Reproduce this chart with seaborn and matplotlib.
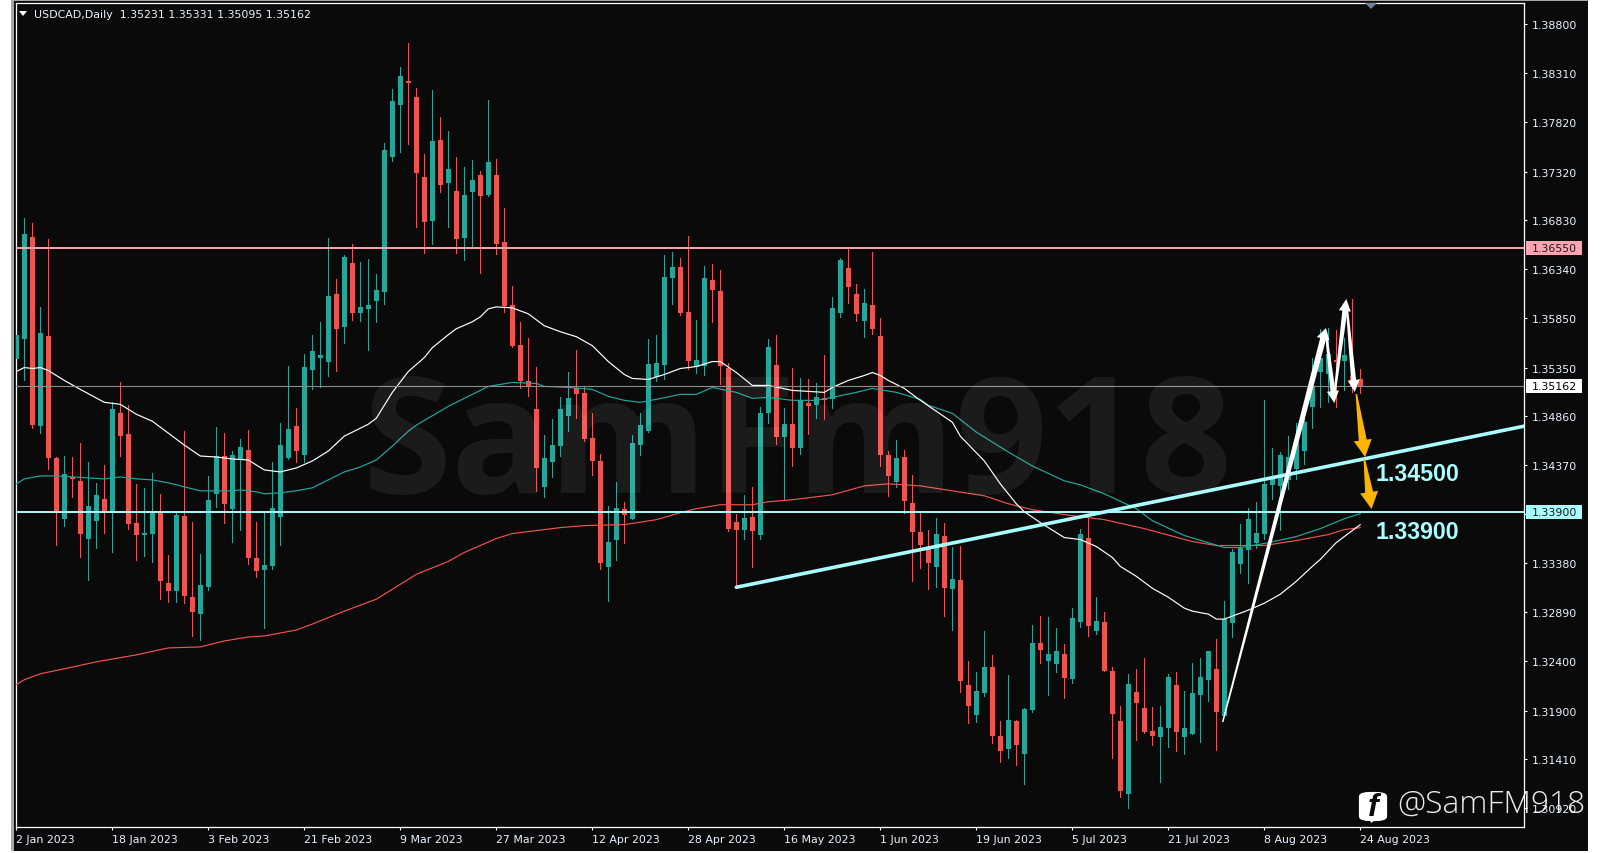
import numpy as np
import pandas as pd
import matplotlib
matplotlib.use("Agg")
import matplotlib.pyplot as plt
from matplotlib.patches import Rectangle, Polygon, FancyBboxPatch
import seaborn as sns

# USDCAD daily candles
opens = [1.3544,1.3564,1.3666,1.3476,1.3567,1.3444,1.3383,1.3425,1.3421,1.3363,1.3381,1.3403,1.3389,1.3489,1.3468,1.3379,1.3367,1.3368,1.3389,1.3318,
1.3310,1.3386,1.3304,1.3287,1.3314,1.3408,1.3446,1.3393,1.3443,1.3452,1.3343,1.3331,1.3335,1.3385,1.3444,1.3476,1.3447,1.3533,1.3545,1.3541,
1.3609,1.3576,1.3640,1.3590,1.3594,1.3602,1.3611,1.3747,1.3799,1.3823,1.3807,1.3727,1.3682,1.3764,1.3721,1.3713,1.3665,1.3712,1.3729,1.3709,
1.3729,1.3661,1.3598,1.3558,1.3521,1.3493,1.3415,1.3440,1.3456,1.3486,1.3514,1.3509,1.3464,1.3441,1.3334,1.3362,1.3393,1.3383,1.3457,1.3471,
1.3525,1.3538,1.3625,1.3636,1.3591,1.3536,1.3537,1.3623,1.3612,1.3535,1.3380,1.3372,1.3385,1.3367,1.3489,1.3538,1.3465,1.3478,1.3454,1.3499,
1.3497,1.3504,1.3503,1.3590,1.3635,1.3609,1.3582,1.3598,1.3567,1.3447,1.3420,1.3445,1.3399,1.3370,1.3352,1.3334,1.3366,1.3312,1.3321,1.3216,
1.3186,1.3208,1.3234,1.3164,1.3151,1.3180,1.3146,1.3191,1.3258,1.3240,1.3237,1.3247,1.3222,1.3279,1.3364,1.3270,1.3279,1.3230,1.3180,1.3106,
1.3209,1.3193,1.3169,1.3163,1.3172,1.3216,1.3163,1.3166,1.3206,1.3221,1.3232,1.3185,1.3278,1.3337,1.3351,1.3359,1.3368,1.3417,1.3416,1.3422,
1.3433,1.3451,1.3495,1.3530,1.3528,1.3543,1.3542,1.3526,1.35231]
closes = [1.3568,1.3669,1.3477,1.3570,1.3444,1.3391,1.3428,1.3423,1.3368,1.3396,1.3407,1.3391,1.3493,1.3466,1.3378,1.3367,1.3368,1.3389,1.3320,1.3310,
1.3387,1.3305,1.3289,1.3316,1.3402,1.3446,1.3398,1.3447,1.3455,1.3343,1.3330,1.3336,1.3394,1.3457,1.3473,1.3451,1.3536,1.3552,1.3548,1.3607,
1.3574,1.3646,1.3590,1.3596,1.3598,1.3613,1.3754,1.3803,1.3828,1.3821,1.3731,1.3681,1.3763,1.3719,1.3735,1.3664,1.3709,1.3724,1.3708,1.3742,
1.3659,1.3597,1.3557,1.3521,1.3515,1.3434,1.3444,1.3457,1.3493,1.3504,1.3508,1.3463,1.3441,1.3338,1.3360,1.3394,1.3387,1.3459,1.3477,1.3539,
1.3540,1.3626,1.3636,1.3590,1.3542,1.3543,1.3625,1.3613,1.3537,1.3373,1.3372,1.3384,1.3371,1.3489,1.3556,1.3465,1.3478,1.3454,1.3502,1.3496,
1.3505,1.3502,1.3595,1.3643,1.3616,1.3589,1.3600,1.3574,1.3447,1.3426,1.3444,1.3401,1.3370,1.3357,1.3338,1.3368,1.3313,1.3322,1.3220,1.3195,
1.3210,1.3234,1.3164,1.3149,1.3181,1.3155,1.3192,1.3258,1.3251,1.3247,1.3250,1.3223,1.3283,1.3368,1.3275,1.3280,1.3230,1.3187,1.3109,1.3217,
1.3198,1.3168,1.3164,1.3173,1.3224,1.3168,1.3172,1.3208,1.3224,1.3250,1.3189,1.3282,1.3349,1.3353,1.3383,1.3369,1.3418,1.3423,1.3447,1.3445,
1.3460,1.3480,1.3516,1.3545,1.3549,1.3541,1.3548,1.3516,1.35162]
highs = [1.3584,1.3685,1.3680,1.3596,1.3664,1.3445,1.3446,1.3445,1.3459,1.3440,1.3419,1.3437,1.3500,1.3520,1.3497,1.3418,1.3414,1.3429,1.3408,1.3346,
1.3389,1.3471,1.3380,1.3347,1.3426,1.3475,1.3469,1.3451,1.3463,1.3472,1.3380,1.3390,1.3440,1.3479,1.3537,1.3494,1.3549,1.3568,1.3581,1.3665,
1.3624,1.3648,1.3659,1.3641,1.3644,1.3629,1.3761,1.3815,1.3837,1.3861,1.3816,1.3750,1.3814,1.3787,1.3773,1.3747,1.3737,1.3744,1.3733,1.3804,
1.3745,1.3695,1.3617,1.3581,1.3565,1.3536,1.3467,1.3483,1.3505,1.3530,1.3553,1.3515,1.3489,1.3448,1.3396,1.3420,1.3400,1.3467,1.3489,1.3564,
1.3568,1.3648,1.3651,1.3645,1.3667,1.3583,1.3637,1.3639,1.3633,1.3540,1.3388,1.3407,1.3415,1.3495,1.3564,1.3568,1.3494,1.3535,1.3524,1.3523,
1.3519,1.3548,1.3606,1.3645,1.3654,1.3619,1.3614,1.3651,1.3585,1.3451,1.3462,1.3452,1.3427,1.3389,1.3372,1.3384,1.3379,1.3354,1.3355,1.3240,
1.3229,1.3270,1.3246,1.3180,1.3226,1.3181,1.3193,1.3276,1.3285,1.3284,1.3273,1.3257,1.3293,1.3373,1.3385,1.3304,1.3289,1.3234,1.3195,1.3227,
1.3232,1.3243,1.3194,1.3195,1.3227,1.3229,1.3210,1.3238,1.3243,1.3250,1.3262,1.3300,1.3352,1.3378,1.3394,1.3400,1.3502,1.3454,1.3450,1.3466,
1.3479,1.3493,1.3545,1.3574,1.3575,1.3573,1.3565,1.3604,1.35331]
lows = [1.3524,1.3522,1.3474,1.3469,1.3433,1.3357,1.3376,1.3405,1.3344,1.3321,1.3353,1.3369,1.3349,1.3446,1.3373,1.3341,1.3345,1.3339,1.3302,1.3299,
1.3299,1.3298,1.3265,1.3261,1.3311,1.3395,1.3379,1.3360,1.3372,1.3337,1.3324,1.3273,1.3332,1.3357,1.3443,1.3440,1.3440,1.3513,1.3515,1.3526,
1.3532,1.3560,1.3583,1.3582,1.3553,1.3581,1.3599,1.3743,1.3752,1.3760,1.3676,1.3650,1.3659,1.3712,1.3676,1.3650,1.3643,1.3656,1.3630,1.3707,
1.3649,1.3591,1.3556,1.3514,1.3506,1.3411,1.3405,1.3425,1.3446,1.3471,1.3484,1.3461,1.3427,1.3332,1.3300,1.3341,1.3359,1.3383,1.3447,1.3470,
1.3521,1.3523,1.3599,1.3588,1.3534,1.3529,1.3527,1.3581,1.3518,1.3371,1.3314,1.3363,1.3334,1.3363,1.3479,1.3458,1.3403,1.3436,1.3448,1.3468,
1.3484,1.3483,1.3494,1.3586,1.3600,1.3582,1.3566,1.3569,1.3436,1.3406,1.3415,1.3389,1.3320,1.3333,1.3312,1.3314,1.3285,1.3271,1.3209,1.3177,
1.3179,1.3205,1.3157,1.3138,1.3142,1.3135,1.3116,1.3189,1.3238,1.3206,1.3229,1.3203,1.3218,1.3274,1.3265,1.3267,1.3230,1.3142,1.3103,1.3092,
1.3160,1.3167,1.3155,1.3118,1.3153,1.3149,1.3146,1.3166,1.3158,1.3200,1.3150,1.3185,1.3264,1.3328,1.3318,1.3353,1.3363,1.3403,1.3372,1.3413,
1.3423,1.3438,1.3474,1.3495,1.3500,1.3495,1.3512,1.3510,1.35095]

# moving averages, read at these bars
white_bars = [0,1,2,3,4,6,8,11,13,15,17,19,21,23,25,27,29,31,33,35,37,39,41,44,45,47,49,51,52,54,55,57,58,59,60,62,64,66,68,70,72,74,76,77,79,81,83,85,87,88,90,92,94,97,99,101,102,104,106,107,108,109,111,113,115,117,118,121,123,125,126,128,131,133,135,137,138,140,142,144,146,147,149,150,151,152,154,156,158,160,162,163,165,168]
white_ma = [1.3531,1.3535,1.3534,1.3535,1.3532,1.3522,1.3513,1.3500,1.3498,1.3488,1.3481,1.3469,1.3457,1.3446,1.3445,1.3443,1.3442,1.3432,1.3430,1.3434,1.3441,1.3451,1.3466,1.3478,1.3484,1.3510,1.3531,1.3545,1.3555,1.3568,1.3574,1.3581,1.3586,1.3594,1.3596,1.3595,1.3589,1.3577,1.3571,1.3566,1.3557,1.3541,1.3528,1.3524,1.3523,1.3528,1.3534,1.3536,1.3541,1.3541,1.3530,1.3517,1.3517,1.3512,1.3511,1.3510,1.3515,1.3522,1.3527,1.3530,1.3527,1.3522,1.3514,1.3502,1.3491,1.3480,1.3466,1.3441,1.3418,1.3398,1.3390,1.3379,1.3364,1.3362,1.3355,1.3344,1.3335,1.3325,1.3313,1.3304,1.3293,1.3290,1.3287,1.3282,1.3282,1.3285,1.3291,1.3298,1.3307,1.3320,1.3335,1.3342,1.3359,1.3377]
teal_bars = [0,1,3,5,7,9,11,13,15,17,19,21,23,25,27,28,30,31,33,35,37,39,41,43,45,47,49,50,54,56,59,62,65,66,69,72,74,76,78,80,83,85,87,90,92,94,97,100,102,105,107,110,113,114,117,120,124,127,131,133,136,140,142,146,151,153,156,160,163,166,168]
teal_ma = [1.3418,1.3423,1.3426,1.3426,1.3425,1.3424,1.3423,1.3425,1.3423,1.3422,1.3419,1.3415,1.3411,1.3411,1.3411,1.3412,1.3410,1.3408,1.3409,1.3411,1.3414,1.3422,1.3430,1.3435,1.3442,1.3456,1.3471,1.3477,1.3496,1.3504,1.3516,1.3520,1.3519,1.3516,1.3515,1.3513,1.3506,1.3502,1.3500,1.3503,1.3508,1.3508,1.3515,1.3510,1.3504,1.3505,1.3502,1.3502,1.3505,1.3510,1.3514,1.3510,1.3503,1.3497,1.3489,1.3470,1.3450,1.3436,1.3421,1.3417,1.3408,1.3393,1.3381,1.3366,1.3354,1.3354,1.3358,1.3365,1.3373,1.3383,1.3388]
red_bars = [0,1,3,6,10,15,19,23,26,29,31,35,37,41,45,48,50,54,56,60,62,65,68,71,76,80,83,85,88,92,94,97,100,102,106,109,113,117,121,124,127,132,136,141,147,150,156,160,164,166,168]
red_ma = [1.3216,1.3221,1.3227,1.3232,1.3239,1.3246,1.3253,1.3254,1.3260,1.3264,1.3265,1.3271,1.3277,1.3290,1.3302,1.3317,1.3327,1.3340,1.3349,1.3363,1.3368,1.3371,1.3374,1.3376,1.3377,1.3382,1.3389,1.3393,1.3397,1.3397,1.3400,1.3402,1.3405,1.3407,1.3416,1.3418,1.3416,1.3411,1.3406,1.3398,1.3392,1.3386,1.3382,1.3373,1.3360,1.3356,1.3356,1.3361,1.3367,1.3372,1.3374]

# axis labels
y_ticks = [1.388,1.3831,1.3782,1.3732,1.3683,1.3634,1.3585,1.3535,1.3486,1.3437,1.3388,1.3338,1.3289,1.324,1.319,1.3141,1.3092]
date_labels = ['2 Jan 2023','18 Jan 2023','3 Feb 2023','21 Feb 2023','9 Mar 2023','27 Mar 2023','12 Apr 2023','28 Apr 2023','16 May 2023','1 Jun 2023','19 Jun 2023','5 Jul 2023','21 Jul 2023','8 Aug 2023','24 Aug 2023']
date_bars = list(range(0, 169, 12))

# levels and drawn objects
resistance = 1.3655
support = 1.3390
last_price = 1.35162
trend_bars = [90, 188.46]
trend_prices = [1.33140, 1.34760]
white_arrows = [((150.8,1.31785),(163.7,1.35747)), ((163.7,1.35707),(164.75,1.34993)),
                ((164.7,1.35033),(166.25,1.36039)), ((166.3,1.35969),(167.3,1.35104))]
orange_arrows = [((167.5,1.35083),(168.6,1.3445)), ((168.5,1.3443),(169.4,1.33927))]

W, H = 1601, 854
BG = '#0a0a0a'
UP = '#26a69a'
DOWN = '#ef5350'
CYAN = '#a9ffff'
PINK = '#ffa4b0'
TXT = '#e8f2ff'

sns.set_theme(style='dark', rc={'axes.facecolor': BG, 'figure.facecolor': 'white', 'axes.grid': False})
plt.rcParams['font.family'] = ['DejaVu Sans']

fig = plt.figure(figsize=(W/100, H/100), dpi=100)

def px_rect(x0, y0, x1, y1, color):
    fig.add_artist(Rectangle((x0/W, 1-y1/H), (x1-x0)/W, (y1-y0)/H, transform=fig.transFigure,
                             facecolor=color, edgecolor='none', zorder=-5))

px_rect(11, 0, 1588, 852, '#a8a8a8')
px_rect(14, 2, 1588, 852, BG)

ax = fig.add_axes([16/W, 1-828/H, 1508/W, 824/H])
ax.set_xlim(-0.04, 188.46)
ax.set_ylim(1.30729, 1.39016)

df = pd.DataFrame({'o': opens, 'c': closes, 'h': highs, 'l': lows})
df['bar'] = df.index
df['col'] = np.where(df.c >= df.o, UP, DOWN)

# candles
ax.vlines(df.bar, df.l, df.h, colors=df.col, lw=0.72, zorder=2, antialiased=False)
ax.bar(df.bar, (df.c-df.o).abs().clip(lower=0.00012), bottom=df[['o', 'c']].min(axis=1), width=0.625,
       color=df.col, linewidth=0, zorder=3, antialiased=False)

# moving averages
for bars, vals, col in [(red_bars, red_ma, DOWN), (teal_bars, teal_ma, UP), (white_bars, white_ma, 'white')]:
    sns.lineplot(x=bars, y=vals, color=col, lw=0.85, ax=ax, zorder=4, estimator=None, legend=False)

# levels
ax.axhline(last_price, color='#8c8c8c', lw=0.8, zorder=5)
ax.axhline(resistance, color=PINK, lw=1.4, zorder=5)
ax.axhline(support, color=CYAN, lw=1.4, zorder=5)
sns.lineplot(x=trend_bars, y=trend_prices, color=CYAN, lw=2.6, ax=ax, zorder=6, estimator=None, legend=False)

# tapered arrows drawn in pixels, anchored on bar/price points
def arrow(start, tip, w0, w1, hw, hl, color):
    p0 = ax.transData.transform(start)
    p1 = ax.transData.transform(tip)
    d = (p1-p0)/np.linalg.norm(p1-p0)
    n = np.array([-d[1], d[0]])
    base = p1-d*hl
    pts = [p0+n*w0/2, base+n*w1/2, base+n*hw/2, p1, base-n*hw/2, base-n*w1/2, p0-n*w0/2]
    pts = ax.transData.inverted().transform(pts)
    ax.add_patch(Polygon(pts, closed=True, facecolor=color, edgecolor='none', zorder=7))

arrow(*white_arrows[0], 1.5, 6, 13, 11, 'white')
for a in white_arrows[1:]:
    arrow(*a, 2, 5, 12, 12, 'white')
for a in orange_arrows:
    arrow(*a, 1.5, 8, 18, 17, '#ffb400')

# level captions, placed next to the arrows
ax.text(169.85, 1.34280, '1.34500', color=CYAN, fontsize=16.7, fontweight='bold', family='Liberation Sans', va='center', zorder=7)
ax.text(169.85, 1.33700, '1.33900', color=CYAN, fontsize=16.7, fontweight='bold', family='Liberation Sans', va='center', zorder=7)

# faint watermark across the candles
ax.text(0.230, 0.4066, 'SamFm918', transform=ax.transAxes, color='white', alpha=0.07, fontsize=116.5,
        family='Open Sans', fontweight='bold', ha='left', va='baseline', zorder=9)

# axes look
for s in ax.spines.values():
    s.set_color('white')
    s.set_linewidth(0.9)
ax.yaxis.tick_right()
ax.set_yticks(y_ticks)
ax.set_yticklabels([f'{v:.5f}' for v in y_ticks])
ax.set_xticks(date_bars)
ax.set_xticklabels(date_labels, ha='left')
ax.tick_params(axis='y', length=2.2, width=0.8, color='white', labelcolor=TXT, labelsize=7.9, pad=3.6, right=True)
ax.tick_params(axis='x', length=2.2, width=0.8, color='white', labelcolor=TXT, labelsize=7.9, pad=2.5, bottom=True)
ax.set_xlabel('')
ax.set_ylabel('')

# price tags on the right axis
def tag(price, face, color):
    ax.add_patch(Rectangle((1.0013, price-0.0007), 0.0372, 0.0014, transform=ax.get_yaxis_transform(),
                           facecolor=face, edgecolor='none', clip_on=False, zorder=10))
    ax.text(1.0053, price, f'{price:.5f}', transform=ax.get_yaxis_transform(), color=color, fontsize=7.9,
            va='center', clip_on=False, zorder=11)

tag(resistance, PINK, '#1a1a1a')
tag(last_price, 'white', 'black')
tag(support, CYAN, '#1a1a1a')

# header
fig.text(34/W, 1-14.5/H, 'USDCAD,Daily  1.35231 1.35331 1.35095 1.35162', color=TXT, fontsize=7.9, va='center')
fig.add_artist(Polygon([(19/W, 1-12/H), (27/W, 1-12/H), (23/W, 1-17/H)], transform=fig.transFigure, facecolor='white', edgecolor='none'))
fig.add_artist(Polygon([(1365/W, 1-4/H), (1377/W, 1-4/H), (1371/W, 1-10/H)], transform=fig.transFigure, facecolor='#6f8296', edgecolor='none'))

# facebook handle bottom right
fig.add_artist(FancyBboxPatch((1361/W, 1-820/H), 24/W, 25/H, boxstyle='round,pad=0,rounding_size=0.006',
                              transform=fig.transFigure, facecolor='white', edgecolor='white', lw=3, zorder=12, mutation_aspect=H/W))
fig.add_artist(Polygon([(1369/W, 1-818/H), (1380/W, 1-818/H), (1371/W, 1-824/H)], transform=fig.transFigure, facecolor='white', edgecolor='none', zorder=12))
fig.text(1373/W, 1-808/H, 'f', color=BG, fontsize=23, fontweight='bold', style='italic', family='Liberation Sans', ha='center', va='center', zorder=13)
fig.text(1397/W, 1-805/H, '@SamFM918', color='white', alpha=0.92, fontsize=22.9, family='Open Sans', fontweight='light', va='center', zorder=13)

fig.savefig('out.png', dpi=100, facecolor='white')
